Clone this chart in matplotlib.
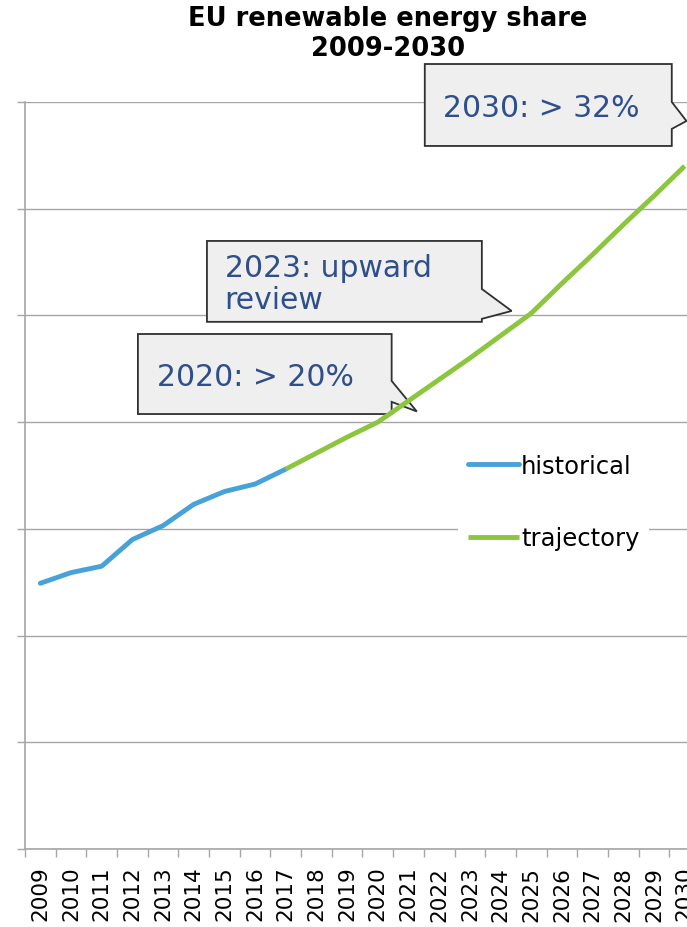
import matplotlib
matplotlib.use("Agg")
import matplotlib.pyplot as plt
from matplotlib.patches import Polygon

# renewable share of gross final energy consumption, %
years = [str(y) for y in range(2009, 2031)]
hist_years = years[:9]            # 2009-2017
hist_share = [12.45, 12.95, 13.25, 14.5, 15.15, 16.15, 16.75, 17.1, 17.8]
traj_years = years[8:]            # 2017-2030
traj_share = [17.8, 18.55, 19.3, 20.0, 21.0, 22.0, 23.0, 24.05, 25.1,
              26.5, 27.85, 29.25, 30.6, 32.0]

callout_texts = ["2030: > 32%", "2023: upward\nreview", "2020: > 20%"]

BLUE = "#46a2d8"
GREEN = "#8cc63f"
GRID = "#a6a6a6"
TXT_BLUE = "#2f4f8a"


def callout(ax, x0, x1, ylo, yhi, wtop, wbot, tip, text, tx, ty):
    pts = [(x0, ylo), (x1, ylo), (x1, wbot), tip, (x1, wtop), (x1, yhi), (x0, yhi)]
    poly = Polygon(pts, closed=True, facecolor="#efefef", edgecolor="#303030",
                   linewidth=1.3, clip_on=False, zorder=3)
    ax.add_patch(poly)
    ax.text(tx, ty, text, color=TXT_BLUE, fontsize=21.5, ha="left", va="center",
            linespacing=1.1, zorder=4, clip_on=False)


fig = plt.figure(figsize=(6.87, 9.28), dpi=100)
ax = fig.add_axes([25 / 687, 1 - 850 / 928, 675 / 687, (850 - 103) / 928])

xh = list(range(0, 9))
xt = list(range(8, 22))
ax.plot(xh, hist_share, color=BLUE, lw=3.5, solid_capstyle="round",
        solid_joinstyle="round", label="historical", zorder=5)
ax.plot(xt, traj_share, color=GREEN, lw=3.5, solid_capstyle="butt",
        solid_joinstyle="round", label="trajectory", zorder=5)

ax.set_xlim(-0.5, 21.5)
ax.set_ylim(0, 35)
ax.set_yticks(range(0, 36, 5))
ax.set_yticklabels([])
ax.yaxis.grid(True, color=GRID, lw=1.0)
ax.set_axisbelow(True)

ax.set_xticks(range(len(years)))
ax.set_xticklabels(years, rotation=90, fontsize=15.5)
ax.set_xticks([i - 0.5 for i in range(len(years) + 1)], minor=True)
ax.tick_params(axis="x", which="major", length=0, pad=12)
ax.tick_params(axis="x", which="minor", length=6, color=GRID, width=1.0)
ax.tick_params(axis="y", length=6, color=GRID, width=1.0)

for s in ["top", "right"]:
    ax.spines[s].set_visible(False)
for s in ["left", "bottom"]:
    ax.spines[s].set_color(GRID)
    ax.spines[s].set_linewidth(1.2)

callout(ax, 12.53, 20.58, 32.94, 36.78, 35.0, 33.74, (21.06, 34.11),
        callout_texts[0], 13.12, 34.75)
callout(ax, 5.43, 14.39, 24.70, 28.49, 26.24, 24.84, (15.36, 25.21),
        callout_texts[1], 6.01, 26.5)
callout(ax, 3.18, 11.45, 20.38, 24.13, 21.93, 20.95, (12.27, 20.5),
        callout_texts[2], 3.80, 22.12)

leg = ax.legend(loc="center left", bbox_to_anchor=(458 / 687, 1 - 503 / 928),
                bbox_transform=fig.transFigure, fontsize=17.5, frameon=True,
                handlelength=2.1, handletextpad=0.1, labelspacing=2.0,
                borderpad=0.4, borderaxespad=0)
leg.get_frame().set_facecolor("white")
leg.get_frame().set_edgecolor("none")
leg.get_frame().set_alpha(1)
leg.set_zorder(6)

fig.text(388 / 687, 1 - 34 / 928, "EU renewable energy share\n2009-2030",
         ha="center", va="center", fontsize=18.5, fontweight="bold",
         linespacing=1.2)

fig.savefig("out.png", dpi=100)
